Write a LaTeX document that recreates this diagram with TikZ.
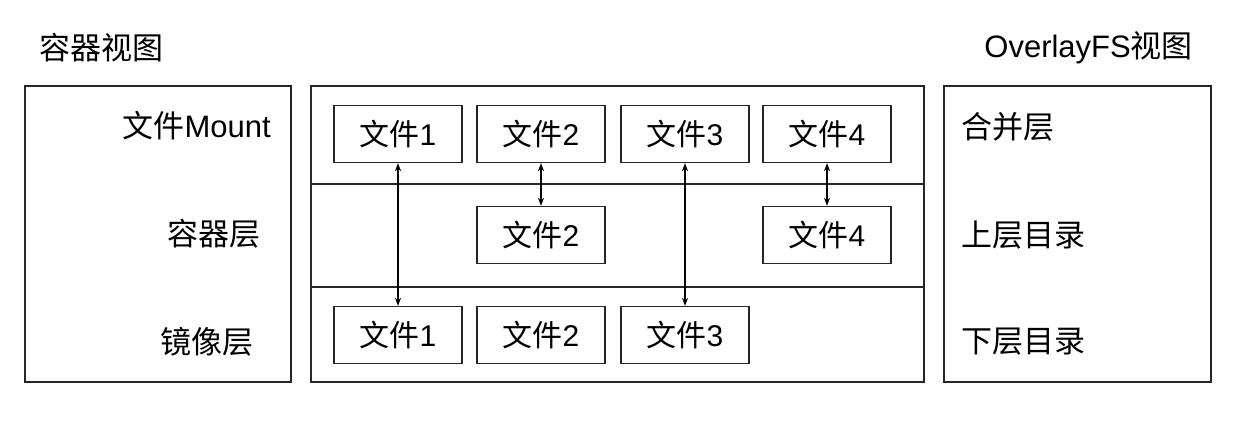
\documentclass[tikz,border=0pt]{standalone}
\usepackage{fontspec}
\setmainfont{Liberation Sans}
\newfontfamily\cjk{Noto Sans CJK SC}
\usetikzlibrary{arrows.meta}
\begin{document}
\begin{tikzpicture}[x=1pt,y=-1pt,
  frame/.style={draw=black!85,line width=1.3pt,minimum width=266pt,minimum height=296pt,inner sep=0pt},
  filebox/.style={draw=black!85,line width=1.3pt,minimum width=128pt,minimum height=57pt,inner sep=0pt,font=\fontsize{30}{36}\selectfont},
  lbl/.style={inner sep=0pt,font=\fontsize{31}{36}\selectfont},
  link/.style={line width=1.3pt,{Stealth[length=8pt,width=6pt]}-{Stealth[length=8pt,width=6pt]}}]
\useasboundingbox (0,0) rectangle (1249,424);
% titles
\node[lbl,anchor=west] (t1) at (39,48) {\cjk 容器视图};
\node[lbl,anchor=east] (t2) at (1193,48) {OverlayFS{\cjk 视图}};
% frames
\node[frame] (left) at (158,234) {};
\node[frame,minimum width=613pt] (mid) at (617.5,234) {};
\node[frame,minimum width=267pt] (right) at (1077.5,234) {};
% dividers
\coordinate (d1l) at (311,184); \coordinate (d1r) at (924,184);
\coordinate (d2l) at (311,287); \coordinate (d2r) at (924,287);
\draw[line width=1.3pt,black!85] (d1l) -- (d1r);
\draw[line width=1.3pt,black!85] (d2l) -- (d2r);
% left labels
\node[lbl,anchor=east] (lm) at (271,126) {{\cjk 文件}Mount};
\node[lbl,anchor=east] (lc) at (261,234) {\cjk 容器层};
\node[lbl,anchor=east] (li) at (254,342) {\cjk 镜像层};
% right labels
\node[lbl,anchor=west] (rm) at (961,127) {\cjk 合并层};
\node[lbl,anchor=west] (ru) at (961,235) {\cjk 上层目录};
\node[lbl,anchor=west] (rl) at (961,342) {\cjk 下层目录};
% file boxes
\node[filebox] (m1) at (398,134) {{\cjk 文件}1};
\node[filebox] (m2) at (541,134) {{\cjk 文件}2};
\node[filebox] (m3) at (685,134) {{\cjk 文件}3};
\node[filebox] (m4) at (827,134) {{\cjk 文件}4};
\node[filebox] (c2) at (541,235) {{\cjk 文件}2};
\node[filebox] (c4) at (827,235) {{\cjk 文件}4};
\node[filebox] (i1) at (398,335) {{\cjk 文件}1};
\node[filebox] (i2) at (541,335) {{\cjk 文件}2};
\node[filebox] (i3) at (685,335) {{\cjk 文件}3};
% links
\draw[link] (m1) -- (i1);
\draw[link] (m2) -- (c2);
\draw[link] (m3) -- (i3);
\draw[link] (m4) -- (c4);
\end{tikzpicture}
\end{document}
